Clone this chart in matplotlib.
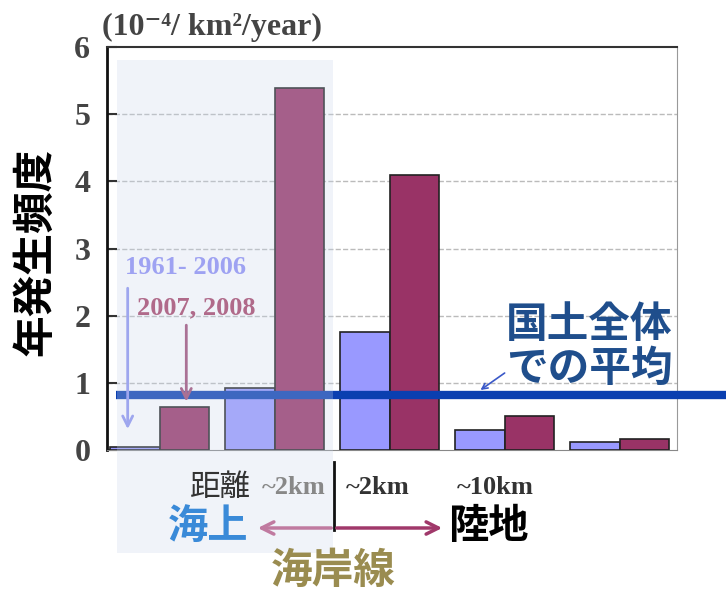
import matplotlib.pyplot as plt
from matplotlib.patches import Rectangle, FancyArrowPatch

plt.rcParams['font.family'] = ['Noto Sans CJK JP', 'DejaVu Sans']

# occurrence frequency per group (10^-4 / km2 / year)
period_a = [0.05, 0.92, 1.76, 0.30, 0.12]   # 1961-2006
period_b = [0.64, 5.39, 4.10, 0.51, 0.17]   # 2007, 2008
national_avg = 0.82
yticks = [0, 1, 2, 3, 4, 5, 6]
dist_labels = ['~2km', '~2km', '~10km']

W, H = 726, 592
SERIF = ['Liberation Serif', 'DejaVu Serif']


def fx(px):
    return px / W


def fy(py):
    return 1 - py / H


fig = plt.figure(figsize=(W / 100, H / 100), dpi=100)
ax = fig.add_axes([fx(107), fy(450), 570 / W, 403 / H])

pos = list(range(len(period_a)))
bw = 0.43
ax.bar([p - bw / 2 for p in pos], period_a, width=bw, color='#9999ff',
       edgecolor='#222222', linewidth=1.2, zorder=3)
ax.bar([p + bw / 2 for p in pos], period_b, width=bw, color='#993366',
       edgecolor='#222222', linewidth=1.2, zorder=3)

ax.set_xlim(-0.46, 4.5)
ax.set_ylim(0, 6)
ax.set_yticks(yticks)
ax.set_yticklabels([str(t) for t in yticks], family=SERIF,
                   fontweight='bold', fontsize=23, color='#444444')
ax.set_xticks([])
ax.tick_params(axis='y', direction='in', length=7, width=1.5,
               color='#333333', pad=12)
for y in yticks[1:-1]:
    ax.axhline(y, color='#bbbbbb', linestyle='--', linewidth=1, zorder=1)
ax.spines['left'].set_linewidth(2)
ax.spines['left'].set_color('#111111')
ax.spines['top'].set_linewidth(1.5)
ax.spines['top'].set_color('#333333')
ax.spines['right'].set_color('#999999')
ax.spines['bottom'].set_color('#888888')

# national average line, runs past the axes
ax.plot([-0.38, 5.0], [national_avg, national_avg], color='#0a3fb0',
        linewidth=6, clip_on=False, zorder=4, solid_capstyle='butt')

# sea side shading drawn over the axes
fig.patches.append(Rectangle((fx(117), fy(553)), (333 - 117) / W, (553 - 60) / H,
                             transform=fig.transFigure, facecolor='#c8d6ec',
                             alpha=0.27, edgecolor='none', zorder=5))

# series annotations
fig.text(fx(125), fy(268), '1961- 2006', family=SERIF, fontweight='bold',
         fontsize=19, color='#9ea2f2', va='center', zorder=6)
fig.text(fx(137), fy(308), '2007, 2008', family=SERIF, fontweight='bold',
         fontsize=19, color='#b06a8a', va='center', zorder=6)
ax.annotate('', xy=(-0.28, 0.27), xytext=(-0.28, 2.45),
            arrowprops=dict(arrowstyle='->', color='#8f95f0', lw=2,
                            mutation_scale=18), zorder=6)
ax.annotate('', xy=(0.23, 0.68), xytext=(0.23, 1.9),
            arrowprops=dict(arrowstyle='->', color='#a04c76', lw=2,
                            mutation_scale=18), zorder=6)

# national average label
fig.text(fx(589), fy(347), '国土全体\nでの平均', fontsize=30, fontweight='bold',
         color='#1f4e8c', ha='center', va='center', linespacing=1.05)
ax.annotate('', xy=(2.77, national_avg + 0.05), xytext=(3.02, 1.17),
            arrowprops=dict(arrowstyle='->', color='#3a58c8', lw=1.2),
            annotation_clip=False)

# y label and unit title
fig.text(fx(35), fy(252), '年発生頻度', rotation=90, fontsize=30,
         fontweight='bold', ha='center', va='center')
fig.text(fx(102), fy(27), '(10⁻⁴/ km²/year)',
         family=SERIF, fontweight='bold', fontsize=23, color='#444444',
         va='center')

# distance axis below the plot
fig.text(fx(220), fy(487), '距離', fontsize=22, color='#333333', ha='center',
         va='center', zorder=6)
for xp, lab, col in zip([294, 378, 495], dist_labels,
                        ['#888888', '#333333', '#333333']):
    fig.text(fx(xp), fy(487), lab, family=SERIF, fontweight='bold',
             fontsize=19, color=col, ha='center', va='center', zorder=6)
fig.add_artist(plt.Line2D([fx(334), fx(334)], [fy(462), fy(530)],
                          color='#111111', linewidth=2, zorder=6))
fig.add_artist(FancyArrowPatch((fx(334), fy(528)), (fx(255), fy(528)),
                               transform=fig.transFigure, arrowstyle='->',
                               mutation_scale=22, color='#c07aa0', lw=2.5,
                               zorder=6))
fig.add_artist(FancyArrowPatch((fx(334), fy(528)), (fx(445), fy(528)),
                               transform=fig.transFigure, arrowstyle='->',
                               mutation_scale=22, color='#a0386a', lw=2.5,
                               zorder=6))
fig.text(fx(208), fy(526), '海上', fontsize=29, fontweight='bold',
         color='#3a8ad8', ha='center', va='center', zorder=6)
fig.text(fx(488), fy(527), '陸地', fontsize=29, fontweight='bold',
         color='#000000', ha='center', va='center', zorder=6)
fig.text(fx(333), fy(571), '海岸線', fontsize=30, fontweight='bold',
         color='#9a8c50', ha='center', va='center', zorder=6)

fig.savefig('out.png', dpi=100)
